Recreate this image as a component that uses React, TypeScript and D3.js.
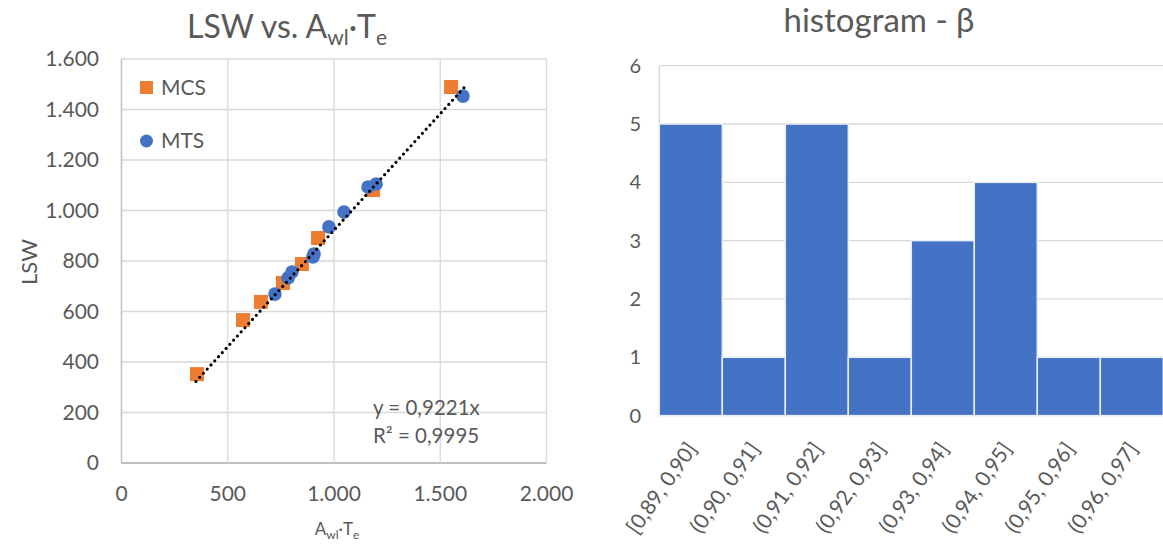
import React from "react";
import * as d3 from "d3";

// ---------- Data ----------
const mcsX = [355, 572, 656, 760, 849, 925, 1184, 1551];
const mcsY = [352, 566, 638, 713, 788, 891, 1081, 1489];
const mtsX = [722, 784, 802, 901, 906, 976, 1047, 1160, 1198, 1607];
const mtsY = [669, 733, 756, 816, 828, 935, 994, 1093, 1105, 1453];
const trendSlope = 0.9221;
const eqLine1 = "y = 0,9221x";
const eqLine2 = "R² = 0,9995";
const scatterXTicks = [0, 500, 1000, 1500, 2000];
const scatterYTicks = [0, 200, 400, 600, 800, 1000, 1200, 1400, 1600];

const histCategories = [
  "[0,89, 0,90]",
  "(0,90, 0,91]",
  "(0,91, 0,92]",
  "(0,92, 0,93]",
  "(0,93, 0,94]",
  "(0,94, 0,95]",
  "(0,95, 0,96]",
  "(0,96, 0,97]",
];
const histCounts = [5, 1, 5, 1, 3, 4, 1, 1];
const histYTicks = [0, 1, 2, 3, 4, 5, 6];

const fmt = (v: number) => d3.format(",")(v).replace(/,/g, ".");

const FONT = "Lato, 'Open Sans', sans-serif";
const TXT = "#595959";
const GRID = "#d9d9d9";
const AXIS = "#bfbfbf";
const ORANGE = "#ED7D31";
const BLUE = "#4472C4";

export default function App() {
  // scatter scales
  const sx = d3.scaleLinear().domain([0, 2000]).range([121.5, 546.5]);
  const sy = d3.scaleLinear().domain([0, 1600]).range([463, 59]);
  const allX = [...mcsX, ...mtsX];
  const tx0 = d3.min(allX)! - 5;
  const tx1 = d3.max(allX)! + 10;
  const trend = d3.line<number>()
    .x((d) => sx(d))
    .y((d) => sy(d * trendSlope));

  // histogram scales
  const hx = d3.scaleBand<string>().domain(histCategories).range([659.3, 659.3 + 63 * histCategories.length]).padding(0);
  const hy = d3.scaleLinear().domain([0, 6]).range([415.6, 65.7]);

  return (
    <svg width={1163} height={548} style={{ position: "absolute", left: 0, top: 0, background: "#fff" }} fontFamily={FONT}>
      <rect x={0} y={0} width={1163} height={548} fill="#fff" />
      {/* ---------- Scatter chart ---------- */}
      <text x={287} y={38} textAnchor="middle" fontSize={32} fill={TXT}>
        LSW vs. A<tspan dy={7} fontSize={21}>wl</tspan>
        <tspan dy={-7}>·T</tspan>
        <tspan dy={7} fontSize={21}>e</tspan>
      </text>
      {scatterYTicks.map((t) => (
        <line key={"gy" + t} x1={sx(0)} x2={sx(2000)} y1={sy(t)} y2={sy(t)} stroke={t === 0 ? AXIS : GRID} strokeWidth={t === 0 ? 1.8 : 1.3} />
      ))}
      {scatterXTicks.map((t) => (
        <line key={"gx" + t} x1={sx(t)} x2={sx(t)} y1={sy(0)} y2={sy(1600)} stroke={t === 0 ? AXIS : GRID} strokeWidth={t === 0 ? 1.5 : 1.3} />
      ))}
      {scatterYTicks.map((t) => (
        <text key={"ly" + t} x={99} y={sy(t) + 7} textAnchor="end" fontSize={21} fill={TXT}>
          {fmt(t)}
        </text>
      ))}
      {scatterXTicks.map((t) => (
        <text key={"lx" + t} x={sx(t)} y={501} textAnchor="middle" fontSize={21} fill={TXT}>
          {fmt(t)}
        </text>
      ))}
      <text transform="translate(37,262) rotate(-90)" textAnchor="middle" fontSize={22} fill={TXT}>
        LSW
      </text>
      <text x={337} y={535} textAnchor="middle" fontSize={17} fill={TXT}>
        A<tspan dy={4} fontSize={12}>wl</tspan>
        <tspan dy={-4}>·T</tspan>
        <tspan dy={4} fontSize={12}>e</tspan>
      </text>
      {/* points */}
      {mcsX.map((x, i) => (
        <rect key={"mcs" + i} x={sx(x) - 7} y={sy(mcsY[i]) - 7} width={14} height={14} fill={ORANGE} />
      ))}
      {mtsX.map((x, i) => (
        <circle key={"mts" + i} cx={sx(x)} cy={sy(mtsY[i])} r={6.8} fill={BLUE} />
      ))}
      {/* trendline */}
      <path d={trend([tx0, tx1]) || ""} fill="none" stroke="#000" strokeWidth={3.2} strokeLinecap="round" strokeDasharray="0 5.6" />
      {/* legend */}
      <rect x={140} y={81} width={13} height={13} fill={ORANGE} />
      <text x={161} y={95} fontSize={21} fill={TXT}>MCS</text>
      <circle cx={146.5} cy={141} r={6.5} fill={BLUE} />
      <text x={161} y={148} fontSize={21} fill={TXT}>MTS</text>
      {/* equation */}
      <text x={373} y={415} fontSize={20.5} fill={TXT}>{eqLine1}</text>
      <text x={373} y={443} fontSize={20.5} fill={TXT}>{eqLine2}</text>

      {/* ---------- Histogram ---------- */}
      <text x={879} y={32} textAnchor="middle" fontSize={33} fill={TXT}>
        histogram - β
      </text>
      {histYTicks.map((t) => (
        <line key={"hg" + t} x1={659.3} x2={1163} y1={hy(t)} y2={hy(t)} stroke={GRID} strokeWidth={1.3} />
      ))}
      <line x1={659.3} x2={659.3} y1={hy(0)} y2={hy(6)} stroke={GRID} strokeWidth={1.3} />
      {histCategories.map((c, i) => (
        <rect
          key={"bar" + i}
          x={hx(c)!}
          y={hy(histCounts[i])}
          width={hx.bandwidth()}
          height={hy(0) - hy(histCounts[i])}
          fill={BLUE}
          stroke="#e9eef7"
          strokeWidth={1.5}
        />
      ))}
      {histYTicks.map((t) => (
        <text key={"hy" + t} x={641} y={hy(t) + 7} textAnchor="end" fontSize={20} fill={TXT}>
          {t}
        </text>
      ))}
      {histCategories.map((c) => (
        <text
          key={"hl" + c}
          transform={`translate(${hx(c)! + hx.bandwidth() / 2 + 7},449) rotate(-55)`}
          textAnchor="end"
          fontSize={21}
          fill={TXT}
        >
          {c}
        </text>
      ))}
    </svg>
  );
}
